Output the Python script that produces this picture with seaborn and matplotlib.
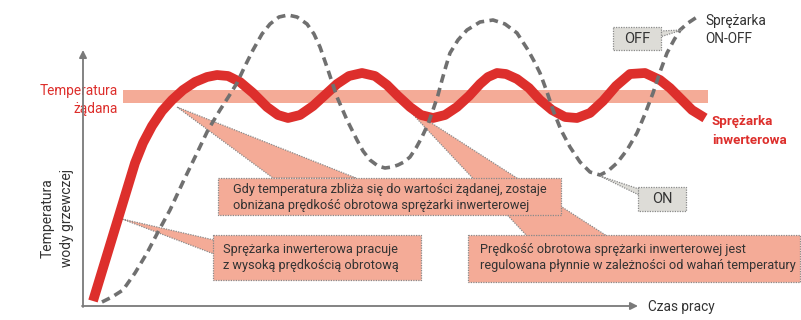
import numpy as np
import pandas as pd
import matplotlib.pyplot as plt
import seaborn as sns
from matplotlib.patches import Rectangle, Polygon

# curve samples (pixel units, y grows downwards)
inv_x = [93, 100, 107, 114, 121, 128, 135, 143, 152, 162, 172, 183, 195, 207, 217,
         228, 240, 253, 267, 278, 288, 300, 313, 325, 337, 349, 362, 375, 387, 398,
         410, 421, 433, 445, 457, 469, 480, 488, 497, 506, 517, 529, 540, 552, 565,
         577, 590, 603, 616, 630, 645, 660, 670, 680, 692, 705]
inv_y = [301, 278, 255, 232, 209, 186, 163, 143, 126, 111, 100, 90, 82, 77, 75,
         76, 82, 93, 107, 115, 118, 115, 106, 95, 84, 76, 73, 76, 85, 96,
         107, 115, 118, 115, 107, 96, 84, 77, 73, 74, 79, 88, 100, 110, 117,
         118, 113, 101, 86, 74, 73, 80, 88, 98, 110, 118]

onoff_x = [102, 112, 123, 135, 147, 158, 170, 183, 197, 208, 220, 229, 237, 245,
           253, 262, 270, 279, 288, 297, 307, 314, 320, 328, 337, 347, 357, 363,
           370, 378, 385, 392, 398, 404, 410, 416, 422, 428, 433, 438, 442, 446,
           450, 458, 467, 480, 493, 505, 517, 528, 534, 540, 547, 553, 561, 570,
           580, 590, 600, 608, 617, 627, 637, 645, 653, 660, 667, 674, 680, 688, 697]
onoff_y = [302, 297, 290, 273, 253, 232, 210, 182, 153, 130, 110, 96, 83, 66,
           50, 34, 24, 17, 15, 17, 24, 34, 47, 70, 97, 120, 140, 151,
           160, 166, 168, 167, 165, 162, 157, 148, 137, 124, 110, 95, 80, 66,
           53, 40, 30, 22, 20, 24, 33, 50, 61, 73, 92, 110, 130, 147,
           162, 172, 175, 171, 163, 150, 133, 114, 93, 72, 53, 40, 30, 23, 17]

band_x = [123, 708]
band_y = [90, 103]

notes = [
    'Gdy temperatura zbliża się do wartości żądanej, zostaje\nobniżana prędkość obrotowa sprężarki inwerterowej',
    'Sprężarka inwerterowa pracuje\nz wysoką prędkością obrotową',
    'Prędkość obrotowa sprężarki inwerterowej jest\nregulowana płynnie w zależności od wahań temperatury',
]

RED = '#dd2f2c'
SALMON = '#f4ab97'
GRAY = '#707070'
BOXGRAY = '#dddcd7'
TXT = '#333333'
DOT = '#8a8a8a'

sns.set_style('white')
plt.rcParams['font.family'] = ['Liberation Sans Narrow', 'DejaVu Sans Condensed',
                               'Roboto', 'DejaVu Sans']

fig = plt.figure(figsize=(8.01, 3.2), dpi=100)
ax = fig.add_axes([0, 0, 1, 1])
ax.set_xlim(0, 801)
ax.set_ylim(320, 0)
ax.axis('off')

# target temperature band
ax.add_patch(Rectangle((band_x[0], band_y[0]), band_x[1] - band_x[0], band_y[1] - band_y[0],
                       color=SALMON, lw=0, zorder=1))

# callout wedges
dotted = dict(facecolor=SALMON, edgecolor=DOT, lw=0.9, ls=(0, (1, 1)), zorder=2)
ax.add_patch(Polygon([[177, 107], [273, 178], [356, 178]], **dotted))
ax.add_patch(Polygon([[122, 219], [214, 240], [214, 254]], **dotted))
ax.add_patch(Polygon([[405, 106], [527, 236], [607, 236]], **dotted))

# curves
sns.lineplot(x=inv_x, y=inv_y, sort=False, estimator=None, ax=ax, color=RED,
             lw=7, solid_capstyle='butt', solid_joinstyle='round', zorder=3)
sns.lineplot(x=onoff_x, y=onoff_y, sort=False, estimator=None, ax=ax, color=GRAY,
             lw=2.6, ls=(0, (2.4, 1.5)), dash_capstyle='butt', zorder=4)

# axes with arrows
arr = dict(arrowstyle='-|>', color='#7a7a7a', lw=1.3, mutation_scale=11, shrinkA=0, shrinkB=0)
ax.annotate('', xy=(83, 50), xytext=(83, 307), arrowprops=arr, zorder=5)
ax.annotate('', xy=(638, 306), xytext=(82, 306), arrowprops=arr, zorder=5)

# note boxes
boxes = [(218, 178, 343, 37), (213, 235, 208, 45), (468, 235, 332, 47)]
text_pos = [(233, 197), (223, 258), (480, 258)]
for (bx, by, bw, bh), (tx, ty), note in zip(boxes, text_pos, notes):
    ax.add_patch(Rectangle((bx, by), bw, bh, facecolor=SALMON, edgecolor=DOT,
                           lw=0.9, ls=(0, (1, 1)), zorder=6))
    ax.text(tx, ty, note, ha='left', va='center', fontsize=9.2, color=TXT,
            linespacing=1.3, zorder=7)

# ON / OFF tags
graytag = dict(facecolor=BOXGRAY, edgecolor=DOT, lw=0.9, ls=(0, (1, 1)), zorder=6)
ax.add_patch(Polygon([[682, 30], [660, 31], [660, 37]], **graytag))
ax.add_patch(Polygon([[600, 176], [639, 189], [639, 195]], **graytag))
ax.add_patch(Rectangle((613, 27), 48, 23, **graytag))
ax.add_patch(Rectangle((638, 187), 48, 24, **graytag))
ax.text(637, 39, 'OFF', ha='center', va='center', fontsize=10.5, color=TXT, zorder=7)
ax.text(662, 199, 'ON', ha='center', va='center', fontsize=10.5, color=TXT, zorder=7)

# labels
ax.text(705, 30, 'Sprężarka\nON-OFF', ha='left', va='center', fontsize=9.8,
        color=TXT, linespacing=1.45)
ax.text(712, 131, 'Sprężarka\ninwerterowa', ha='left', va='center', fontsize=9.6,
        color=RED, fontweight='bold', linespacing=1.5)
ax.text(118, 100, 'Temperatura\nżądana', ha='right', va='center', fontsize=9.8,
        color=RED, linespacing=1.45)
ax.text(648, 307, 'Czas pracy', ha='left', va='center', fontsize=9.8, color=TXT)
ax.text(57, 218, 'Temperatura\nwody grzewczej', ha='center', va='center', fontsize=10,
        color=TXT, rotation=90, linespacing=1.5)

fig.savefig('out.png', dpi=100)
